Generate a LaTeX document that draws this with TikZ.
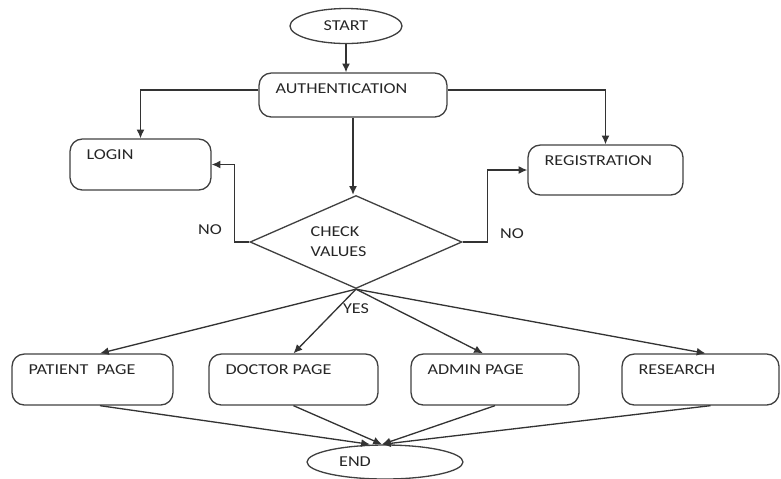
\documentclass[tikz,border=0pt]{standalone}
\usepackage{fontspec}
\setmainfont{Carlito}[FakeStretch=1.2]
\usetikzlibrary{shapes.geometric,arrows.meta}

\begin{document}
\begin{tikzpicture}[x=0.02cm,y=-0.02cm,
  every node/.style={text=black!85,font=\fontsize{8.6}{11.3}\selectfont},
  line/.style={draw=black!80,line width=0.75pt},
  arr/.style={line,-{Latex[length=5pt,width=4.5pt]}},
  oval/.style={ellipse,draw=black!75,line width=0.75pt,inner sep=0pt},
  block/.style={draw=black!75,line width=0.75pt,rounded corners=7pt,minimum height=1.02cm},
  boxtext/.style={label={[anchor=west,xshift=0.22cm,yshift=-0.32cm]north west:#1}},
  decision/.style={diamond,draw=black!75,line width=0.75pt,inner sep=0pt}]
\useasboundingbox (0,0) rectangle (781,478);

\node[oval,minimum width=2.24cm,minimum height=0.7cm] (start) at (346,26) {START};
\node[block,minimum width=3.76cm,minimum height=0.88cm,boxtext=AUTHENTICATION] (auth) at (353,95) {};
\node[block,minimum width=2.82cm,boxtext=LOGIN] (login) at (140.5,164.5) {};
\node[block,minimum width=3.1cm,minimum height=1.0cm,boxtext=REGISTRATION] (reg) at (605.5,170) {};
\node[decision,minimum width=4.24cm,minimum height=1.86cm,
  label={[align=left,xshift=-0.35cm]center:CHECK\\VALUES}] (check) at (356,242) {};

\node[block,minimum width=3.22cm,boxtext=PATIENT\ \ PAGE] (patient) at (92.5,379.5) {};
\node[block,minimum width=3.38cm,boxtext=DOCTOR PAGE] (doctor) at (293.5,379.5) {};
\node[block,minimum width=3.36cm,boxtext=ADMIN PAGE] (admin) at (495,379.5) {};
\node[block,minimum width=3.14cm,boxtext=RESEARCH] (research) at (700.5,379.5) {};
\node[oval,minimum width=3.12cm,minimum height=0.68cm,
  label={[xshift=-0.6cm]center:END}] (end) at (385,462) {};

\node (nol) at (210,230) {NO};
\node (nor) at (512,234) {NO};
\node (yes) at (356,309) {YES};

% top part
\draw[arr] (start.south) -- (start.south |- auth.north);
\draw[arr] ([yshift=0.1cm]auth.west) -| (login.north);
\draw[arr] ([yshift=0.1cm]auth.east) -| (reg.north);
\draw[arr] (auth.south) -- (auth.south |- check.north);
\draw[arr] (check.west) -- ++(-15,0) |- (login.east);
\draw[arr] (check.east) -- ++(25,0) |- (reg.west);

% pages
\draw[arr] (check.south) -- ([xshift=0.15cm]patient.north);
\draw[arr] (check.south) -- (doctor.north);
\draw[arr] (check.south) -- ([xshift=-0.24cm]admin.north);
\draw[arr] (check.south) -- ([xshift=0.1cm]research.north);

% into end
\draw[arr] ([xshift=0.15cm]patient.south) -- ([xshift=-0.3cm]end.north);
\draw[arr] (doctor.south) -- ([xshift=-0.06cm]end.north);
\draw[arr] (admin.south) -- ([xshift=-0.06cm]end.north);
\draw[arr] ([xshift=0.2cm]research.south) -- ([xshift=-0.06cm]end.north);
\end{tikzpicture}
\end{document}
